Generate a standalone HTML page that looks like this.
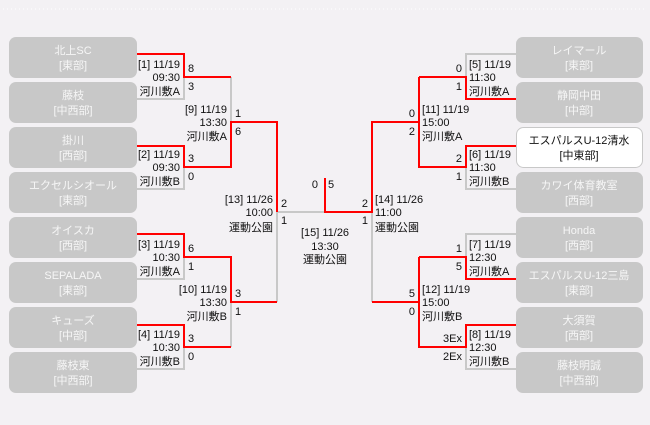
<!DOCTYPE html>
<html><head><meta charset="utf-8"><style>
html,body{margin:0;padding:0;background:#f3f1f4;}
svg{display:block}
text{font-family:"Liberation Sans","Noto Sans CJK JP",sans-serif;font-size:11px;fill:#111}
.bt{fill:#f6f6f6;font-size:11px}
</style></head><body>
<svg width="650" height="425" xmlns="http://www.w3.org/2000/svg">
<rect width="650" height="425" fill="#f3f1f4"/>
<line x1="3" y1="9" x2="647" y2="9" stroke="#fff" stroke-dasharray="1 3"/>
<g fill="#c8c8c8">
<rect x="9" y="37" width="128" height="41" rx="7"/>
<rect x="9" y="82" width="128" height="41" rx="7"/>
<rect x="9" y="127" width="128" height="41" rx="7"/>
<rect x="9" y="172" width="128" height="41" rx="7"/>
<rect x="9" y="217" width="128" height="41" rx="7"/>
<rect x="9" y="262" width="128" height="41" rx="7"/>
<rect x="9" y="307" width="128" height="41" rx="7"/>
<rect x="9" y="352" width="128" height="41" rx="7"/>
<rect x="516" y="37" width="127" height="41" rx="7"/>
<rect x="516" y="82" width="127" height="41" rx="7"/>
<rect x="516" y="172" width="127" height="41" rx="7"/>
<rect x="516" y="217" width="127" height="41" rx="7"/>
<rect x="516" y="262" width="127" height="41" rx="7"/>
<rect x="516" y="307" width="127" height="41" rx="7"/>
<rect x="516" y="352" width="127" height="41" rx="7"/>
</g>
<rect x="516.5" y="127.5" width="126" height="40" rx="7" fill="#fff" stroke="#c8c8c8"/>
<g stroke="#c8c8c8" stroke-width="2" fill="none">
<polyline points="184,77 184,99 137,99"/>
<polyline points="184,167 184,189 137,189"/>
<polyline points="231,77 231,122"/>
<polyline points="184,257 184,279 137,279"/>
<polyline points="184,347 184,369 137,369"/>
<polyline points="231,302 231,347"/>
<polyline points="277,212 277,302"/>
<polyline points="277,212 325,212"/>
<polyline points="372,212 372,302"/>
<polyline points="466,77 466,54 516,54"/>
<polyline points="466,167 466,189 516,189"/>
<polyline points="466,257 466,234 516,234"/>
<polyline points="466,347 466,369 516,369"/>
</g>
<g stroke="#f00" stroke-width="2" fill="none">
<polyline points="137,54 184,54 184,77 231,77"/>
<polyline points="137,146 184,146 184,167 231,167 231,122 277,122 277,212"/>
<polyline points="137,234 184,234 184,257 231,257 231,302 277,302"/>
<polyline points="137,325 184,325 184,347 231,347"/>
<polyline points="325,178 325,212 372,212 372,122 419,122"/>
<polyline points="419,77 466,77 466,99 516,99"/>
<polyline points="419,77 419,167 466,167 466,146 516,146"/>
<polyline points="372,302 419,302"/>
<polyline points="419,257 419,347 466,347 466,325 516,325"/>
<polyline points="419,257 466,257 466,279 516,279"/>
</g>
<g text-anchor="middle">
<text class="bt" x="73" y="54">北上SC</text><text class="bt" x="73" y="69">[東部]</text>
<text class="bt" x="73" y="99">藤枝</text><text class="bt" x="73" y="114">[中西部]</text>
<text class="bt" x="73" y="144">掛川</text><text class="bt" x="73" y="159">[西部]</text>
<text class="bt" x="73" y="189">エクセルシオール</text><text class="bt" x="73" y="204">[東部]</text>
<text class="bt" x="73" y="234">オイスカ</text><text class="bt" x="73" y="249">[西部]</text>
<text class="bt" x="73" y="279">SEPALADA</text><text class="bt" x="73" y="294">[東部]</text>
<text class="bt" x="73" y="324">キューズ</text><text class="bt" x="73" y="339">[中部]</text>
<text class="bt" x="73" y="369">藤枝東</text><text class="bt" x="73" y="384">[中西部]</text>
<text class="bt" x="579" y="54">レイマール</text><text class="bt" x="579" y="69">[東部]</text>
<text class="bt" x="579" y="99">静岡中田</text><text class="bt" x="579" y="114">[中部]</text>
<text x="579" y="144">エスパルスU-12清水</text><text x="579" y="159">[中東部]</text>
<text class="bt" x="579" y="189">カワイ体育教室</text><text class="bt" x="579" y="204">[西部]</text>
<text class="bt" x="579" y="234">Honda</text><text class="bt" x="579" y="249">[西部]</text>
<text class="bt" x="579" y="279">エスパルスU-12三島</text><text class="bt" x="579" y="294">[東部]</text>
<text class="bt" x="579" y="324">大須賀</text><text class="bt" x="579" y="339">[西部]</text>
<text class="bt" x="579" y="369">藤枝明誠</text><text class="bt" x="579" y="384">[中西部]</text>
<text x="325" y="236">[15] 11/26</text><text x="325" y="250">13:30</text><text x="325" y="263">運動公園</text>
</g>
<g text-anchor="end">
<text x="180" y="68">[1] 11/19</text><text x="180" y="81">09:30</text><text x="180" y="95">河川敷A</text>
<text x="180" y="158">[2] 11/19</text><text x="180" y="171">09:30</text><text x="180" y="185">河川敷B</text>
<text x="180" y="248">[3] 11/19</text><text x="180" y="261">10:30</text><text x="180" y="275">河川敷A</text>
<text x="180" y="338">[4] 11/19</text><text x="180" y="351">10:30</text><text x="180" y="365">河川敷B</text>
<text x="227" y="113">[9] 11/19</text><text x="227" y="126">13:30</text><text x="227" y="140">河川敷A</text>
<text x="227" y="293">[10] 11/19</text><text x="227" y="306">13:30</text><text x="227" y="320">河川敷B</text>
<text x="273" y="203">[13] 11/26</text><text x="273" y="216">10:00</text><text x="273" y="231">運動公園</text>
<text x="318" y="188">0</text>
<text x="368" y="207">2</text><text x="368" y="224">1</text>
<text x="415" y="117">0</text><text x="415" y="135">2</text>
<text x="415" y="297">5</text><text x="415" y="315">0</text>
<text x="462" y="72">0</text><text x="462" y="90">1</text>
<text x="462" y="162">2</text><text x="462" y="180">1</text>
<text x="462" y="252">1</text><text x="462" y="270">5</text>
<text x="462" y="342">3Ex</text><text x="462" y="360">2Ex</text>
</g>
<g>
<text x="188" y="72">8</text><text x="188" y="90">3</text>
<text x="188" y="162">3</text><text x="188" y="180">0</text>
<text x="188" y="252">6</text><text x="188" y="270">1</text>
<text x="188" y="342">3</text><text x="188" y="360">0</text>
<text x="235" y="117">1</text><text x="235" y="135">6</text>
<text x="235" y="297">3</text><text x="235" y="315">1</text>
<text x="281" y="207">2</text><text x="281" y="224">1</text>
<text x="328" y="188">5</text>
<text x="375" y="203">[14] 11/26</text><text x="375" y="216">11:00</text><text x="375" y="231">運動公園</text>
<text x="422" y="113">[11] 11/19</text><text x="422" y="126">15:00</text><text x="422" y="140">河川敷A</text>
<text x="422" y="293">[12] 11/19</text><text x="422" y="306">15:00</text><text x="422" y="320">河川敷B</text>
<text x="469" y="68">[5] 11/19</text><text x="469" y="81">11:30</text><text x="469" y="95">河川敷A</text>
<text x="469" y="158">[6] 11/19</text><text x="469" y="171">11:30</text><text x="469" y="185">河川敷B</text>
<text x="469" y="248">[7] 11/19</text><text x="469" y="261">12:30</text><text x="469" y="275">河川敷A</text>
<text x="469" y="338">[8] 11/19</text><text x="469" y="351">12:30</text><text x="469" y="365">河川敷B</text>
</g>
</svg>
</body></html>
